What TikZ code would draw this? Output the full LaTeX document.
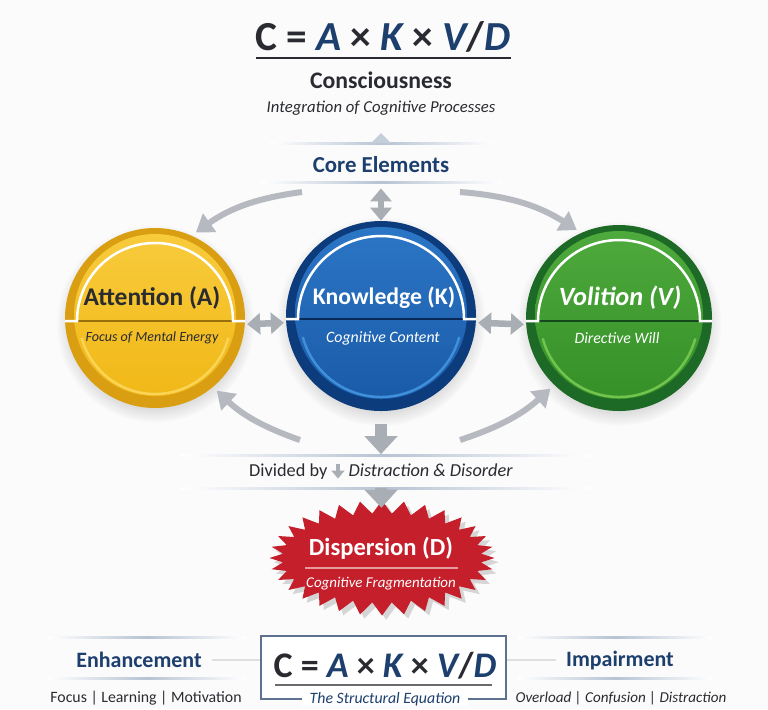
\documentclass[tikz,border=0pt]{standalone}
\usepackage{fontspec}
\setmainfont{Carlito}
\usepackage{xcolor}
\usetikzlibrary{arrows.meta,shapes.symbols,shadows}

\definecolor{bgcol}{HTML}{FBFBFC}
\definecolor{ink}{HTML}{2A2B30}
\definecolor{navy}{HTML}{1C3F6E}
\definecolor{arrgray}{HTML}{A9ADB4}
\definecolor{rulecol}{HTML}{B7C3D3}
\definecolor{yelMain}{HTML}{F1B817}
\definecolor{yelTop}{HTML}{F8CB3C}
\definecolor{yelRing}{HTML}{D99E12}
\definecolor{yelGlow}{HTML}{F9D456}
\definecolor{bluMain}{HTML}{1A5BA8}
\definecolor{bluTop}{HTML}{2C76C6}
\definecolor{bluRing}{HTML}{0D3C7C}
\definecolor{bluGlow}{HTML}{3F8FDB}
\definecolor{grnMain}{HTML}{359028}
\definecolor{grnTop}{HTML}{4EAA3C}
\definecolor{grnRing}{HTML}{1D6A26}
\definecolor{grnGlow}{HTML}{72C44E}
\definecolor{dispRed}{HTML}{C41F2B}
\definecolor{dispLine}{HTML}{E79A9E}
\definecolor{boxEdge}{HTML}{5C7290}

\newcommand{\cakvd}{{\color{ink}C} {\color{ink}=} {\color{navy}\itshape A} {\color{ink}×} {\color{navy}\itshape K} {\color{ink}×} {\color{navy}\itshape V}{\color{ink}/}{\color{navy}\itshape D}}

\begin{document}
\begin{tikzpicture}[x=0.2mm, y=-0.2mm,
  ball/.style={circle, minimum size=#1, inner sep=0pt},
  rule/.style={left color=white, right color=white, middle color=#1},
  dbl/.style={{Triangle[width=4.2mm,length=2.6mm]}-{Triangle[width=4.2mm,length=2.6mm]}, line width=1.3mm, draw=arrgray},
  down/.style={-{Triangle[width=6.4mm,length=3.6mm]}, line width=2.4mm, draw=arrgray},
  curv/.style={-{Triangle[width=4.4mm,length=3.4mm]}, line width=1.2mm, draw=arrgray!85},
  headtxt/.style={font=\bfseries\fontsize{14.5}{17}\selectfont},
  subtxt/.style={font=\itshape\fontsize{9}{11}\selectfont}]
\tikzstyle{every node}+=[inner sep=0pt]
\path[use as bounding box, fill=bgcol] (0,0) rectangle (768,709);

\node[font=\bfseries\fontsize{23.5}{26}\selectfont, anchor=base] (topeq) at (383,50) {\cakvd};
\draw[ink, line width=0.35mm] (256,58) -- (511,58);
\node[font=\bfseries\fontsize{13.5}{16}\selectfont, text=ink] (cons) at (381,80) {Consciousness};
\node[font=\itshape\fontsize{9.5}{12}\selectfont, text=ink] (integ) at (381,108) {Integration of Cognitive Processes};
\shade[rule=rulecol] (270,142) rectangle (495,144);
\fill[rulecol!80] (371,143) -- (381,133) -- (391,143) -- cycle;
\node[font=\bfseries\fontsize{13}{15}\selectfont, text=navy] (core) at (381,165) {Core Elements};
\shade[rule=rulecol] (260,181) rectangle (502,183);

\foreach \n/\cx/\cy/\r/\fc/\tc/\rc/\gc in {att/155/318/90/yelMain/yelTop/yelRing/yelGlow,
    know/381/316/95/bluMain/bluTop/bluRing/bluGlow,
    vol/619/318/93/grnMain/grnTop/grnRing/grnGlow}{
  \node[ball={\r*0.4mm}, fill=\rc, circular drop shadow={shadow xshift=0mm, shadow yshift=-1mm, opacity=.25}] (\n) at (\cx,\cy) {};
  \path[top color=\tc, bottom color=\fc] (\cx,\cy-3) circle ({\r-9});
  \draw[\gc, line width=0.5mm] (\cx,\cy) ++(15:{\r-14}) arc[start angle=15, end angle=165, radius={\r-14}];
  \draw[\rc!70!black, line width=0.25mm] (\cx-\r+12,\cy+3) -- (\cx+\r-12,\cy+3);
  \draw[white, line width=0.5mm] (\cx-\r,\cy+3) -- ++(12,0) arc[start angle=180, end angle=360, radius={\r-12}] -- ++(12,0);
}

\node[headtxt, text=ink] (attT) at (152,298) {Attention (A)};
\node[subtxt, text=ink, font=\itshape\fontsize{8}{10}\selectfont] (attS) at (152,338) {Focus of Mental Energy};
\node[headtxt, text=white, font=\bfseries\fontsize{13.5}{16}\selectfont] (knowT) at (384,298) {Knowledge (K)};
\node[subtxt, text=white] (knowS) at (383,338) {Cognitive Content};
\node[font=\bfseries\itshape\fontsize{15}{17}\selectfont, text=white] (volT) at (620,298) {Volition (V)};
\node[subtxt, text=white] (volS) at (617,338) {Directive Will};

\draw[dbl, shorten <=3mm] (core) -- (know);
\draw[dbl, shorten <=0.4mm, shorten >=0.4mm] (att.-4) -- (know.184);
\draw[dbl, shorten <=0.4mm, shorten >=0.4mm] (know.-4) -- (vol.184);

\coordinate (tl) at (302,192);
\coordinate (tr) at (460,192);
\coordinate (bl) at (300,440);
\coordinate (br) at (460,440);
\draw[curv, shorten >=1mm] (tl) to[bend right=14] (att.66);
\draw[curv, shorten >=1mm] (tr) to[bend left=14] (vol.114);
\draw[curv, shorten >=1mm] (bl) to[bend left=12] (att.-50);
\draw[curv, shorten >=1mm] (br) to[bend right=12] (vol.-134);

\node[font=\fontsize{10.4}{12}\selectfont, text=ink, minimum height=6.6mm] (divide) at (381,471)
  {Divided by \tikz[baseline=0pt]\draw[arrgray, line width=0.8mm, -{Triangle[width=2.6mm,length=1.6mm]}] (0,2.6mm) -- (0,-0.4mm); \textit{Distraction \& Disorder}};
\shade[rule=rulecol] (180,454) rectangle (590,456);
\shade[rule=rulecol] (180,487) rectangle (590,489);
\draw[down, shorten <=2.6mm] (know) -- (divide);

\node[starburst, starburst points=32, starburst point height=2.6mm, random starburst=0, fill=dispRed,
  minimum width=45mm, minimum height=23mm, drop shadow={opacity=.3}] (disp) at (382,558) {};
\draw[down, shorten >=-1.4mm] (divide) -- (disp);
\node[font=\bfseries\fontsize{14}{16}\selectfont, text=white] (dispT) at (381,548) {Dispersion (D)};
\draw[dispLine, line width=0.25mm] (305,568) -- (458,568);
\node[subtxt, text=white, font=\itshape\fontsize{8.5}{10}\selectfont] (dispS) at (381,584) {Cognitive Fragmentation};

\node[draw=boxEdge, line width=0.3mm, fill=white, minimum width=49mm, minimum height=12.6mm] (eqbox) at (383.5,667.5) {};
\node[font=\bfseries\fontsize{20.5}{23}\selectfont, anchor=base] (boteq) at (385,677) {\cakvd};
\draw[ink!70, line width=0.25mm] (275,685) -- (492,685);
\node[subtxt, text=navy, fill=white, inner xsep=1.6mm] (struct) at (385,699) {The Structural Equation};

\shade[rule=rulecol] (48,636) rectangle (245,638);
\shade[rule=rulecol] (48,677) rectangle (245,679);
\shade[rule=rulecol] (518,636) rectangle (712,638);
\shade[rule=rulecol] (518,677) rectangle (712,679);
\node[font=\bfseries\fontsize{12.5}{15}\selectfont, text=navy] (enh) at (139,660) {Enhancement};
\node[font=\fontsize{9}{11}\selectfont, text=ink] (enhS) at (146,698) {Focus | Learning | Motivation};
\node[font=\bfseries\fontsize{12.5}{15}\selectfont, text=navy] (imp) at (620,660) {Impairment};
\node[font=\itshape\fontsize{8.6}{11}\selectfont, text=ink] (impS) at (621,698) {Overload | Confusion | Distraction};
\draw[gray!25, line width=0.3mm] ([xshift=2mm]enh.east) -- (eqbox.west |- enh.east);
\draw[gray!25, line width=0.3mm] (eqbox.east |- imp.west) -- ([xshift=-2mm]imp.west);
\end{tikzpicture}
\end{document}
